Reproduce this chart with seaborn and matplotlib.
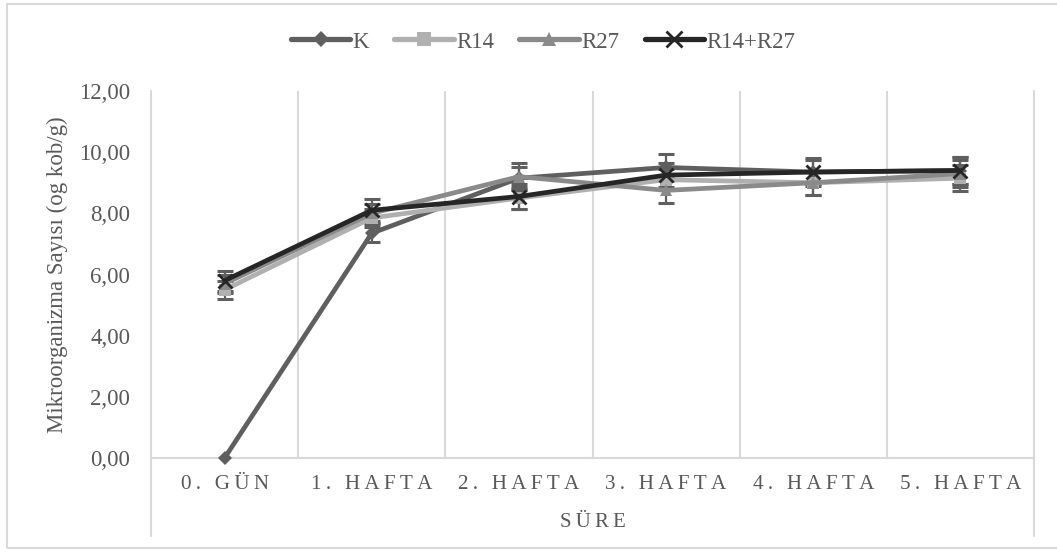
import matplotlib
matplotlib.use("Agg")
import matplotlib.pyplot as plt
from matplotlib.lines import Line2D
from matplotlib.patches import Rectangle
import numpy as np
import pandas as pd
import seaborn as sns

# --- chart data ---
periods = ["0. GÜN", "1. HAFTA", "2. HAFTA", "3. HAFTA", "4. HAFTA", "5. HAFTA"]
groups = ["K", "R14", "R27", "R14+R27"]

k_vals = [0.00, 7.35, 9.15, 9.50, 9.35, 9.40]
r14_vals = [5.50, 7.85, 8.50, 9.10, 9.00, 9.15]
r27_vals = [5.70, 8.00, 9.20, 8.75, 9.00, 9.30]
mix_vals = [5.80, 8.10, 8.55, 9.25, 9.35, 9.40]

k_err = [0.00, 0.30, 0.35, 0.43, 0.40, 0.45]
r14_err = [0.30, 0.30, 0.35, 0.35, 0.40, 0.42]
r27_err = [0.30, 0.30, 0.43, 0.42, 0.40, 0.45]
mix_err = [0.33, 0.36, 0.40, 0.40, 0.45, 0.45]

colors = {"K": "#5f5f5f", "R14": "#b0b0b0", "R27": "#8a8a8a", "R14+R27": "#262626"}
markers = {"K": "D", "R14": "s", "R27": "^", "R14+R27": "x"}
msizes = {"K": 7.5, "R14": 8.5, "R27": 9, "R14+R27": 10.5}

values = {"K": k_vals, "R14": r14_vals, "R27": r27_vals, "R14+R27": mix_vals}
errors = {"K": k_err, "R14": r14_err, "R27": r27_err, "R14+R27": mix_err}

df = pd.concat(
    [pd.DataFrame({"sure": range(len(periods)), "deger": values[g], "grup": g}) for g in groups],
    ignore_index=True,
)

sns.set_theme(style="white")
plt.rcParams["font.family"] = ["Liberation Serif", "DejaVu Serif"]

fig = plt.figure(figsize=(10.57, 5.52), dpi=100)
ax = fig.add_axes([151 / 1057, 1 - 458 / 552, (1034 - 151) / 1057, (458 - 91) / 552])

grid_c = "#d9d9d9"
text_c = "#595959"

# error bars first so the lines sit on top
for g in groups:
    ax.errorbar(range(len(periods)), values[g], yerr=errors[g], fmt="none",
                ecolor="#5f5f5f", elinewidth=1.6, capsize=6, capthick=2.2, zorder=2)

for g in groups:
    sub = df[df["grup"] == g]
    sns.lineplot(data=sub, x="sure", y="deger", ax=ax, color=colors[g], lw=3.4,
                 marker=markers[g], markersize=msizes[g], markeredgewidth=2 if g == "R14+R27" else 0,
                 markeredgecolor=colors[g], zorder=3, legend=False, clip_on=False)

ax.set_xlim(-0.5, len(periods) - 0.5)
ax.set_ylim(0, 12)
ax.set_yticks(np.arange(0, 12.1, 2))
ax.set_yticklabels([f"{v:.2f}".replace(".", ",") for v in np.arange(0, 12.1, 2)])
ax.set_xticks(range(len(periods)))
ax.set_xticklabels(["\u2009".join(p) for p in periods])
ax.tick_params(axis="y", length=0, pad=15, labelsize=16.5, labelcolor=text_c)
ax.tick_params(axis="x", length=0, pad=12, labelsize=15.2, labelcolor=text_c)

# vertical category-boundary gridlines
for xb in np.arange(0.5, len(periods) - 0.5, 1):
    ax.axvline(xb, color=grid_c, lw=1.5, zorder=0)
for s in ["top", "right", "left"]:
    ax.spines[s].set_visible(False)
ax.spines["bottom"].set_color(grid_c)
ax.spines["bottom"].set_linewidth(1.5)
for xb in [0, 1]:
    ax.add_line(Line2D([xb, xb], [-0.212, 1.0], transform=ax.transAxes, color=grid_c,
                       lw=1.5, clip_on=False, zorder=0))

ax.set_xlabel("\u2009".join("SÜRE"), fontsize=15, color=text_c, labelpad=14)
ax.set_ylabel("Mikroorganizma Sayısı (og kob/g)", fontsize=16.5, color=text_c)
ax.yaxis.set_label_coords((68 - 151) / 883, 0.5)

handles = [Line2D([], [], color=colors[g], lw=3.8, marker=markers[g], markersize=msizes[g] + 1,
                  markeredgewidth=2 if g == "R14+R27" else 0, markeredgecolor=colors[g]) for g in groups]
fig.legend(handles, groups, loc="center", bbox_to_anchor=(543 / 1057, 1 - 42 / 552), ncol=4,
           frameon=False, fontsize=16.5, handlelength=2.6, handletextpad=0.1, columnspacing=1.1,
           labelcolor=text_c)

# outer chart border
fig.patches.append(Rectangle((7 / 1057, 4 / 552), 1.05, 1 - 8 / 552, transform=fig.transFigure,
                             fill=False, edgecolor=grid_c, lw=1.5))

fig.savefig("out.png", dpi=100)
